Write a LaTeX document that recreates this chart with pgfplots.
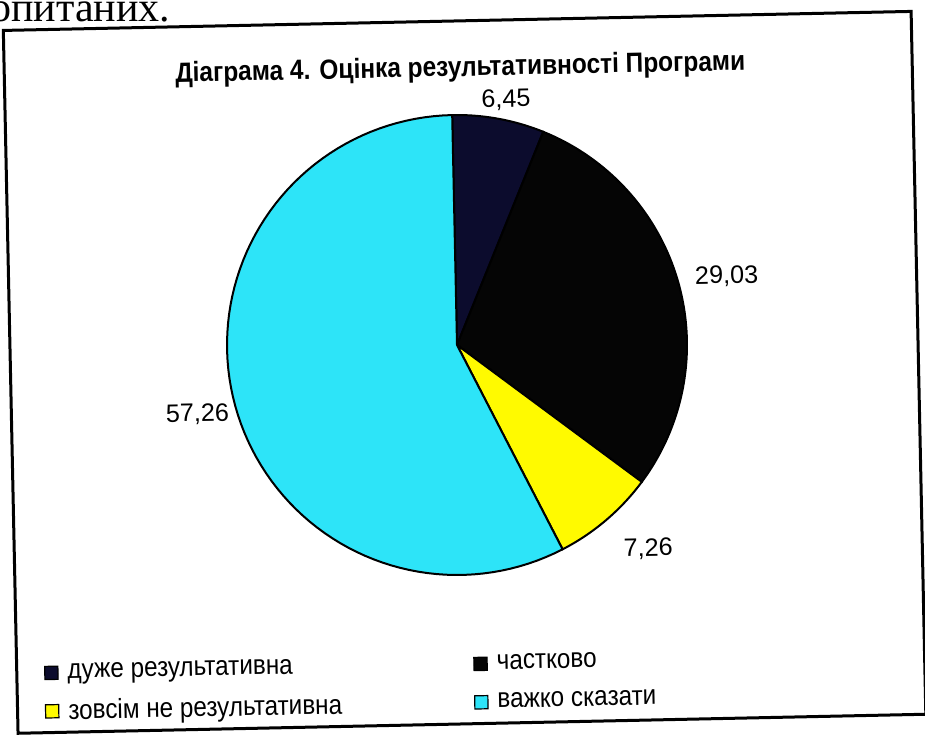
\documentclass[border=0pt]{standalone}
\usepackage{pgfplots}
\pgfplotsset{compat=1.18}
\usepackage{pgfplotstable}
\usepackage{fontspec}
\setmainfont{Liberation Sans}
\newfontfamily\narrowfont[FakeStretch=0.88]{Liberation Sans}
\newfontfamily\seriffont{Liberation Serif}
\definecolor{pie0}{RGB}{12,12,45}
\definecolor{pie1}{RGB}{5,5,5}
\definecolor{pie2}{RGB}{255,250,0}
\definecolor{pie3}{RGB}{45,228,248}

\pgfplotstableread[col sep=comma]{
label,value
дуже результативна,6.45
частково,29.03
зовсім не результативна,7.26
важко сказати,57.26
}\piedata

\begin{document}
\begin{tikzpicture}
\useasboundingbox (0,0) rectangle (462.5pt,367pt);
\clip (0,0) rectangle (462.5pt,367pt);
\node[anchor=base west, inner sep=0, font=\seriffont\fontsize{21}{25}\selectfont] at (-5pt,356pt) {опитаних.};
\begin{scope}[transform canvas={rotate around={1.2:(228.5pt,194.5pt)}}]
\begin{axis}[
  at={(0,0)}, anchor=origin,
  scale only axis, width=462.5pt, height=367pt,
  xmin=0, xmax=925, ymin=0, ymax=734,
  hide axis, clip=false,
  legend columns=2,
  legend style={at={(axis cs:31,87)}, anchor=north west, draw=none, fill=none,
    font=\narrowfont\fontsize{13.8}{16}\selectfont,
    row sep=5pt,
    /tikz/every odd column/.append style={column sep=2.5pt},
    /tikz/every even column/.append style={column sep=64pt}},
  legend cell align=left,
  legend image code/.code={\draw[#1, line width=0.6pt, draw=black] (0pt,-3.3pt) rectangle (6.6pt,3.3pt);},
]
\draw[line width=1.5pt] (axis cs:10,10) rectangle (axis cs:918,713);
\def\cum{0}
\pgfplotsforeachungrouped \i in {0,1,2,3}{%
  \pgfplotstablegetelem{\i}{value}\of\piedata
  \pgfmathsetmacro\angA{90-3.6*\cum}%
  \pgfmathsetmacro\cum{\cum+\pgfplotsretval}%
  \pgfmathsetmacro\angB{90-3.6*\cum}%
  \pgfplotstablegetelem{\i}{label}\of\piedata
  \let\lab\pgfplotsretval
  \edef\doplot{\noexpand\addplot[fill=pie\i, draw=black, line width=1pt, domain=\angB:\angA, samples=90, variable=\noexpand\t] ({457+230*cos(\noexpand\t)}, {389+230*sin(\noexpand\t)}) -- (axis cs:457,389) -- cycle;%
  \noexpand\addlegendentry{\lab}}%
  \doplot
}
\node[font=\narrowfont\bfseries\fontsize{13.9}{16}\selectfont] at (axis cs:466,665) {Діаграма 4. Оцінка результативності Програми};
\node[font=\fontsize{12.6}{15}\selectfont] at (axis cs:511,633) {6,45};
\node[font=\fontsize{12.6}{15}\selectfont] at (axis cs:728,452) {29,03};
\node[font=\fontsize{12.6}{15}\selectfont] at (axis cs:196,325) {57,26};
\node[font=\fontsize{12.6}{15}\selectfont] at (axis cs:644,181) {7,26};
\end{axis}
\end{scope}
\end{tikzpicture}
\end{document}
